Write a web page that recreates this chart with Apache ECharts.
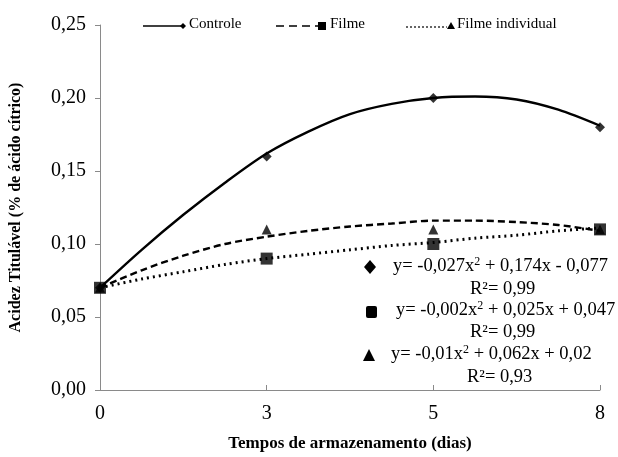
<!DOCTYPE html>
<html>
<head>
<meta charset="utf-8">
<script src="https://cdn.jsdelivr.net/npm/echarts@6/dist/echarts.min.js"></script>
<style>
  html, body { margin: 0; padding: 0; background: #fff; }
  #chart { width: 618px; height: 457px; }
</style>
</head>
<body>
<div id="chart"></div>
<script>
// storage days (equally spaced categories)
const days = ['0', '3', '5', '8']
const yTicks = ['0,00', '0,05', '0,10', '0,15', '0,20', '0,25']

// measured values
const controle = [0.07, 0.16, 0.20, 0.18]
const filme = [0.07, 0.09, 0.10, 0.11]
const filmeIndividual = [0.07, 0.11, 0.11, 0.11]

// fitted curves at quarter-category steps
const trendX = [0, 0.25, 0.5, 0.75, 1, 1.25, 1.5, 1.75, 2, 2.25, 2.5, 2.75, 3]
const controleTrend = [0.07, 0.096, 0.12, 0.142, 0.162, 0.177, 0.189, 0.196, 0.2, 0.201, 0.199, 0.192, 0.181]
const dashedTrend = [0.07, 0.082, 0.092, 0.1, 0.105, 0.109, 0.112, 0.114, 0.116, 0.116, 0.115, 0.113, 0.109]
const dottedTrend = [0.07, 0.076, 0.081, 0.086, 0.09, 0.093, 0.096, 0.099, 0.101, 0.104, 0.106, 0.109, 0.111]

const serif = '"Liberation Serif", "DejaVu Serif", serif'
const axisGray = '#8a8a8a'

const pts = arr => arr.map((v, i) => [i, v])
const curve = arr => arr.map((v, i) => [trendX[i], v])

const chart = echarts.init(document.getElementById('chart'))

const eqFont = '18.5px ' + serif
const eqRich = {
  sup: { fontSize: 12, verticalAlign: 'top', padding: [0, 0, 9, 0], fontFamily: serif, fill: '#000' }
}

function eqLabel(x, y, txt) {
  return {
    type: 'text', left: x, top: y,
    style: { text: txt, font: eqFont, fill: '#000', rich: eqRich }
  }
}

chart.setOption({
  animation: false,
  backgroundColor: '#fff',
  grid: { left: 100, right: 18, top: 25, bottom: 67 },
  xAxis: {
    type: 'value', min: 0, max: 3, interval: 1,
    name: 'Tempos de armazenamento (dias)',
    nameLocation: 'middle', nameGap: 45,
    nameTextStyle: { fontFamily: serif, fontWeight: 'bold', fontSize: 17, color: '#000' },
    axisLine: { lineStyle: { color: axisGray, width: 1 } },
    axisTick: { inside: true, length: 5, lineStyle: { color: axisGray } },
    axisLabel: { formatter: v => days[v], fontFamily: serif, fontSize: 20, color: '#000', margin: 14 },
    splitLine: { show: false }
  },
  yAxis: {
    type: 'value', min: 0, max: 0.25, interval: 0.05,
    name: 'Acidez Titulável (% de ácido cítrico)',
    nameLocation: 'middle', nameGap: 76,
    nameTextStyle: { fontFamily: serif, fontWeight: 'bold', fontSize: 16, color: '#000' },
    axisLine: { show: true, lineStyle: { color: axisGray, width: 1 } },
    axisTick: { show: true, length: 5, lineStyle: { color: axisGray } },
    axisLabel: { formatter: (v, i) => yTicks[i], fontFamily: serif, fontSize: 20, color: '#000', margin: 14 },
    splitLine: { show: false }
  },
  series: [
    { type: 'line', data: curve(controleTrend), smooth: 0.3, showSymbol: false,
      lineStyle: { color: '#000', width: 2.4, type: 'solid' }, z: 2 },
    { type: 'line', data: curve(dashedTrend), smooth: 0.3, showSymbol: false,
      lineStyle: { color: '#000', width: 2.4, type: [7, 4] }, z: 2 },
    { type: 'line', data: curve(dottedTrend), smooth: 0.3, showSymbol: false,
      lineStyle: { color: '#000', width: 3, type: [2, 4] }, z: 2 },
    { name: 'Controle', type: 'scatter', data: pts(controle), symbol: 'diamond', symbolSize: 10,
      itemStyle: { color: '#000' }, z: 3 },
    { name: 'Filme individual', type: 'scatter', data: pts(filmeIndividual), symbol: 'triangle', symbolSize: 10,
      itemStyle: { color: '#000' }, z: 3 },
    { name: 'Filme', type: 'scatter', data: pts(filme), symbol: 'rect', symbolSize: 12,
      itemStyle: { color: '#000' }, z: 4 }
  ],
  graphic: [
    // legend
    { type: 'line', shape: { x1: 143, y1: 26, x2: 182, y2: 26 }, style: { stroke: '#000', lineWidth: 1.5 } },
    { type: 'polygon', shape: { points: [[183, 23], [186, 26], [183, 29], [180, 26]] }, style: { fill: '#000' } },
    { type: 'text', left: 189, top: 17, style: { text: 'Controle', font: '15px ' + serif, fill: '#000' } },
    { type: 'line', shape: { x1: 276, y1: 26, x2: 318, y2: 26 }, style: { stroke: '#000', lineWidth: 1.5, lineDash: [8, 5] } },
    { type: 'rect', shape: { x: 318, y: 22, width: 8, height: 8 }, style: { fill: '#000' } },
    { type: 'text', left: 330, top: 17, style: { text: 'Filme', font: '15px ' + serif, fill: '#000' } },
    { type: 'line', shape: { x1: 406, y1: 27, x2: 447, y2: 27 }, style: { stroke: '#000', lineWidth: 1.2, lineDash: [2, 2] } },
    { type: 'polygon', shape: { points: [[451, 22], [455, 29], [447, 29]] }, style: { fill: '#000' } },
    { type: 'text', left: 457, top: 17, style: { text: 'Filme individual', font: '15px ' + serif, fill: '#000' } },
    // regression equations
    { type: 'polygon', shape: { points: [[370, 260], [376, 267], [370, 274], [364, 267]] }, style: { fill: '#000' } },
    eqLabel(393, 256, 'y= -0,027x{sup|2} + 0,174x - 0,077'),
    eqLabel(470, 280, 'R²= 0,99'),
    { type: 'rect', shape: { x: 366, y: 306, width: 11, height: 12, r: 2 }, style: { fill: '#000' } },
    eqLabel(396, 300, 'y= -0,002x{sup|2} + 0,025x + 0,047'),
    eqLabel(470, 323, 'R²= 0,99'),
    { type: 'polygon', shape: { points: [[369, 349], [375, 361], [363, 361]] }, style: { fill: '#000' } },
    eqLabel(391, 344, 'y= -0,01x{sup|2} + 0,062x + 0,02'),
    eqLabel(467, 368, 'R²= 0,93')
  ]
})
</script>
</body>
</html>
